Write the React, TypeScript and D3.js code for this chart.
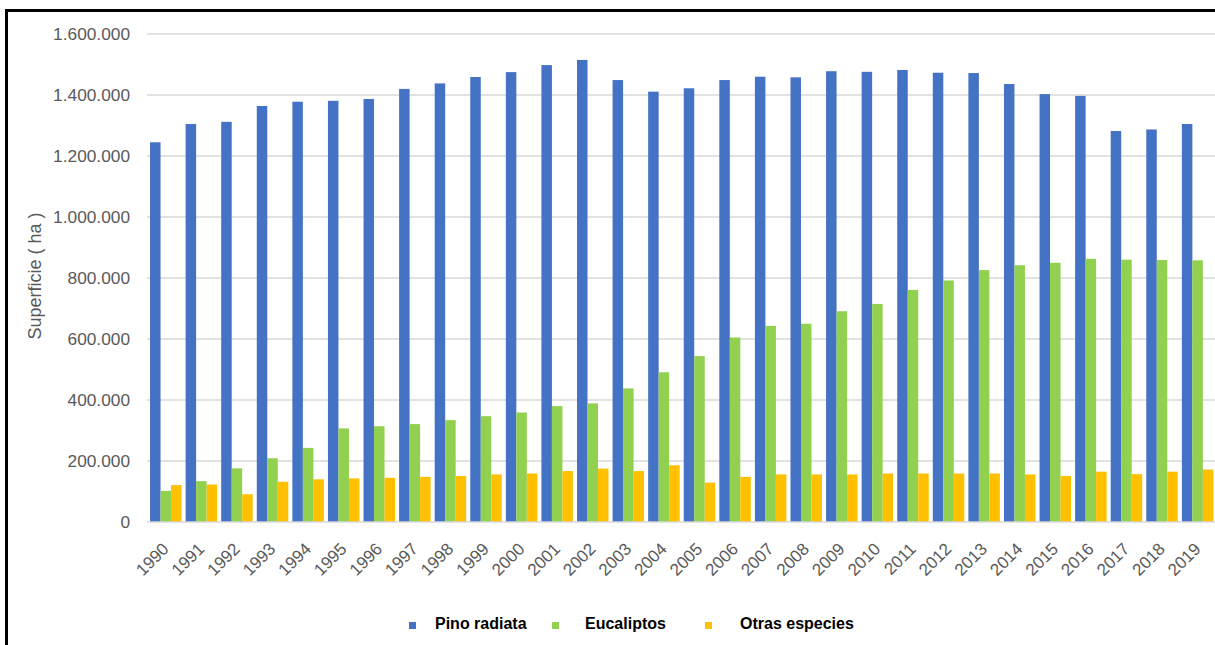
import React from "react";
import * as d3 from "d3";

const years = ["1990","1991","1992","1993","1994","1995","1996","1997","1998","1999","2000","2001","2002","2003","2004","2005","2006","2007","2008","2009","2010","2011","2012","2013","2014","2015","2016","2017","2018","2019"];
const pinoRadiata = [1245000,1305000,1312000,1364000,1378000,1381000,1387000,1420000,1438000,1459000,1475000,1498000,1515000,1449000,1411000,1422000,1449000,1460000,1458000,1478000,1476000,1482000,1473000,1472000,1436000,1403000,1397000,1282000,1287000,1305000];
const eucaliptos = [102000,134000,176000,209000,243000,307000,314000,321000,334000,347000,359000,380000,389000,438000,491000,544000,605000,643000,650000,691000,715000,761000,792000,826000,842000,850000,863000,860000,859000,858000];
const otrasEspecies = [121000,123000,91000,132000,140000,143000,145000,148000,151000,156000,159000,167000,175000,167000,186000,129000,148000,156000,156000,156000,159000,159000,159000,159000,156000,151000,165000,157000,165000,172000];
const yTicks = [0,200000,400000,600000,800000,1000000,1200000,1400000,1600000];
const seriesNames = ["Pino radiata","Eucaliptos","Otras especies"];
const seriesColors = ["#4472C4","#92D050","#FFC000"];

const W = 1215, H = 645;

const fmt = (v: number) => v === 0 ? "0" : d3.format(",")(v).replace(/,/g, ".");

export default function App() {
  const x = d3.scaleBand<string>().domain(years).range([148, 1215.4]).paddingInner(0.115).paddingOuter(0.0575);
  const series = [pinoRadiata, eucaliptos, otrasEspecies];
  const xs = d3.scaleBand<number>().domain([0,1,2]).range([0, x.bandwidth()]);
  const y = d3.scaleLinear().domain([0, 1600000]).range([522, 34]);
  const legendX = [409, 552, 705];
  const legendTextX = [435, 585, 740];
  return (
    <svg width={W} height={H} style={{position:"absolute", left:0, top:0, background:"#fff"}}>
      <rect x={0} y={0} width={W} height={H} fill="#fff" />
      {yTicks.map(t => (
        <g key={t}>
          {t > 0 && <line x1={147} x2={1215} y1={y(t)} y2={y(t)} stroke="#d9d9d9" strokeWidth={1.5} />}
          <text x={130} y={y(t)} dy="0.35em" textAnchor="end" fontFamily="Liberation Sans, Arial, sans-serif" fontSize={17.3} fill="#595959">{fmt(t)}</text>
        </g>
      ))}
      {years.map((yr, i) => (
        <g key={yr}>
          {series.map((s, k) => (
            <rect key={k} x={(x(yr) as number) + (xs(k) as number)} y={y(s[i])} width={xs.bandwidth()} height={y(0) - y(s[i])} fill={seriesColors[k]} />
          ))}
        </g>
      ))}
      <line x1={147} x2={1215} y1={y(0)} y2={y(0)} stroke="#d9d9d9" strokeWidth={1.5} />
      {years.map(yr => {
        const cx = (x(yr) as number) + x.bandwidth() / 2 + 4;
        return (
          <text key={"l" + yr} transform={`translate(${cx},${550}) rotate(-45)`} textAnchor="end" fontFamily="Liberation Sans, Arial, sans-serif" fontSize={17} fill="#595959">{yr}</text>
        );
      })}
      <text transform={`translate(41,276) rotate(-90)`} textAnchor="middle" fontFamily="Liberation Sans, Arial, sans-serif" fontSize={18} fill="#595959">Superficie ( ha )</text>
      {seriesNames.map((n, k) => (
        <g key={n}>
          <rect x={legendX[k]} y={622} width={7} height={7} fill={seriesColors[k]} />
          <text x={legendTextX[k]} y={629} fontFamily="Liberation Sans, Arial, sans-serif" fontWeight="bold" fontSize={16} fill="#000">{n}</text>
        </g>
      ))}
      <line x1={5} x2={W} y1={10.5} y2={10.5} stroke="#000" strokeWidth={3} />
      <line x1={6.5} x2={6.5} y1={9} y2={H} stroke="#000" strokeWidth={3} />
    </svg>
  );
}
